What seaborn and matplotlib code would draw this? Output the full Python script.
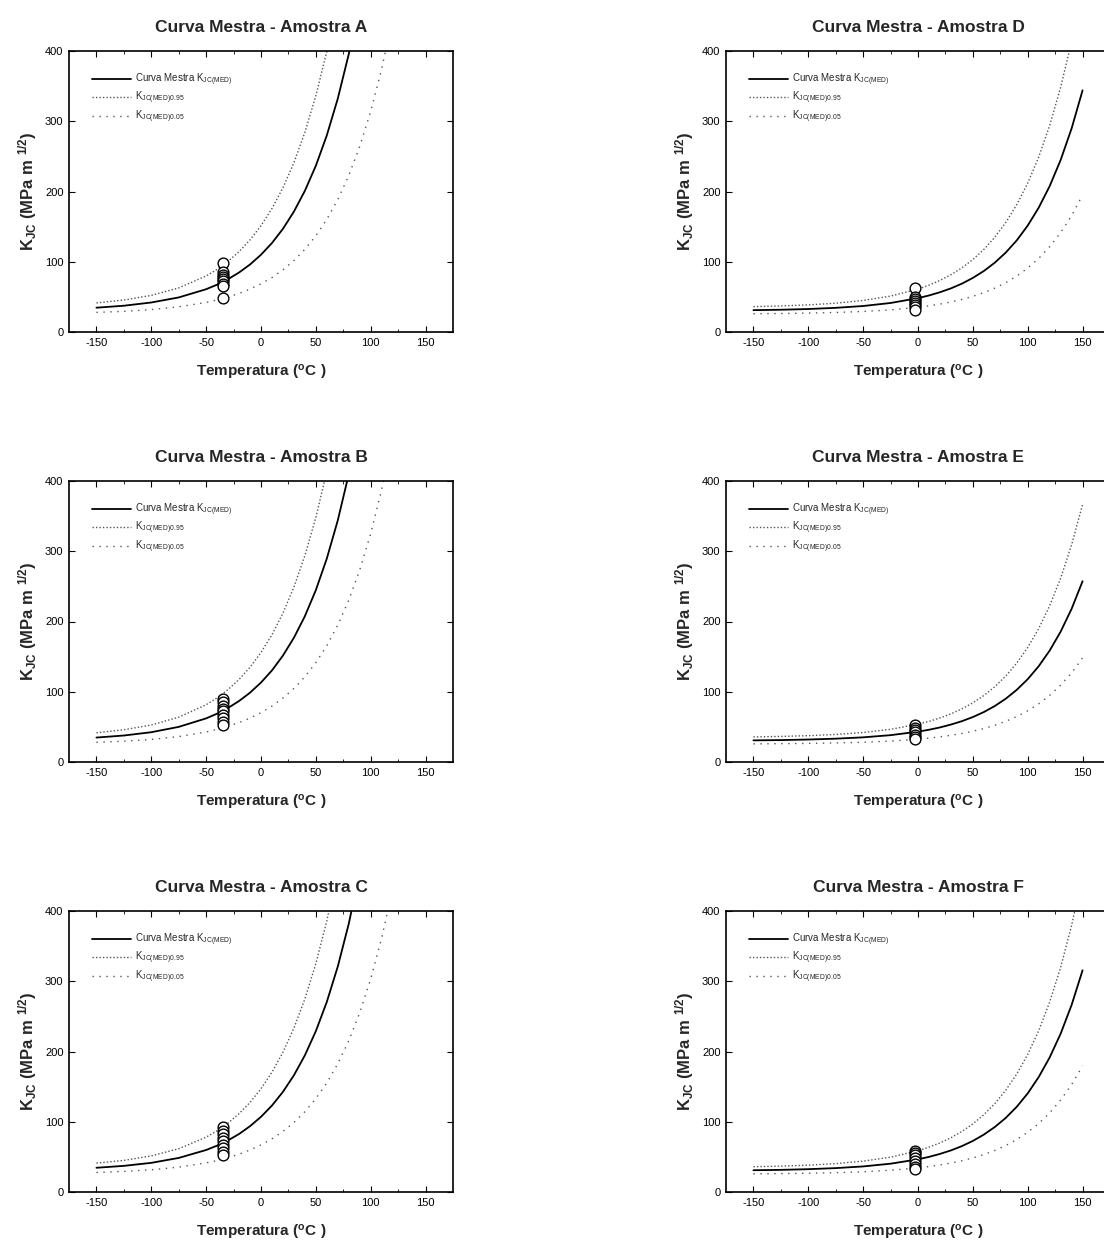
import matplotlib
matplotlib.use('Agg')
import matplotlib.pyplot as plt
import seaborn as sns

# grades de temperatura (C)
T_ESQ = [-150, -125, -100, -75, -50, -40, -30, -20, -10, 0, 10, 20, 30, 40,
         50, 60, 70, 80, 90, 100, 110, 120]
T_DIR = [-150, -125, -100, -75, -50, -25, 0, 10, 20, 30, 40, 50, 60, 70,
         80, 90, 100, 110, 120, 130, 140, 150]

# Amostra A
MED_A = [34.6, 37.4, 42.0, 49.2, 60.9, 67.4, 75.2, 84.7, 96.1, 110.0, 126.7,
         146.9, 171.4, 201.0, 236.7, 280.0, 332.3, 395.6, 472.1]
SUP_A = [41.4, 45.5, 52.1, 62.7, 79.8, 89.2, 100.6, 114.4, 131.1, 151.3, 175.8,
         205.3, 241.0, 284.2, 336.4, 399.6, 476.0]
INF_A = [27.9, 29.4, 31.9, 35.8, 42.1, 45.6, 49.8, 54.9, 61.1, 68.6, 77.6, 88.5,
         101.8, 117.7, 137.0, 160.4, 188.6, 222.8, 264.1, 314.1, 374.5, 447.5]
ENS_A = [98, 85, 81, 78, 75, 72, 68, 65, 48]

# Amostra B
MED_B = [34.8, 37.7, 42.4, 50.0, 62.1, 68.8, 77.0, 86.8, 98.7, 113.1, 130.4,
         151.5, 176.9, 207.6, 244.7, 289.7, 344.0, 409.7]
SUP_B = [41.6, 45.9, 52.7, 63.8, 81.5, 91.3, 103.2, 117.5, 134.9, 155.9, 181.2,
         211.9, 249.0, 293.9, 348.1, 413.7]
INF_B = [28.0, 29.6, 32.1, 36.2, 42.7, 46.4, 50.8, 56.1, 62.5, 70.2, 79.6, 91.0,
         104.7, 121.3, 141.4, 165.6, 195.0, 230.4, 273.4, 325.2, 388.0, 463.8]
ENS_B = [90, 85, 80, 76, 72, 67, 62, 57, 52]

# Amostra C
MED_C = [34.5, 37.2, 41.5, 48.5, 59.8, 66.0, 73.5, 82.6, 93.7, 107.0, 123.1,
         142.6, 166.1, 194.6, 229.0, 270.7, 321.0, 381.9, 455.6]
SUP_C = [41.1, 45.0, 51.4, 61.6, 78.1, 87.2, 98.2, 111.5, 127.5, 147.0, 170.5,
         198.9, 233.3, 274.9, 325.2, 386.0, 459.5]
INF_C = [27.8, 29.3, 31.6, 35.4, 41.5, 44.8, 48.9, 53.8, 59.8, 67.0, 75.7, 86.2,
         98.9, 114.3, 132.9, 155.4, 182.6, 215.4, 255.2, 303.3, 361.4, 431.8]
ENS_C = [93, 87, 82, 77, 72, 67, 62, 57, 52]

# Amostra D
MED_D = [31.1, 31.7, 32.7, 34.4, 37.0, 41.3, 48.2, 52.0, 56.6, 62.1, 68.8, 77.0,
         86.8, 98.7, 113.1, 130.4, 151.5, 176.9, 207.6, 244.8, 289.7, 344.0]
SUP_D = [36.1, 37.1, 38.6, 41.0, 44.9, 51.1, 61.1, 66.7, 73.4, 81.5, 91.3, 103.2,
         117.5, 134.9, 155.9, 181.2, 211.9, 249.0, 293.9, 348.1, 413.7, 493.1]
INF_D = [26.0, 26.3, 26.9, 27.8, 29.2, 31.5, 35.2, 37.3, 39.7, 42.7, 46.4, 50.8,
         56.1, 62.5, 70.2, 79.6, 91.0, 104.7, 121.3, 141.4, 165.6, 195.0]
ENS_D = [63, 50, 47, 44, 41, 38, 35, 32]

# Amostra E
MED_E = [30.8, 31.2, 32.0, 33.2, 35.1, 38.2, 43.2, 45.9, 49.2, 53.3, 58.1, 64.0,
         71.1, 79.7, 90.1, 102.7, 117.9, 136.3, 158.6, 185.5, 218.0, 257.3]
SUP_E = [35.7, 36.4, 37.5, 39.2, 42.0, 46.5, 53.8, 57.8, 62.7, 68.5, 75.7, 84.2,
         94.6, 107.2, 122.4, 140.8, 163.0, 189.8, 222.3, 261.6, 309.1, 366.5]
INF_E = [25.8, 26.1, 26.5, 27.1, 28.1, 29.8, 32.5, 34.0, 35.8, 38.0, 40.6, 43.8,
         47.6, 52.3, 57.9, 64.7, 72.9, 82.8, 94.8, 109.4, 126.9, 148.2]
ENS_E = [53, 48, 45, 42, 39, 36, 33]

# Amostra F
MED_F = [31.0, 31.5, 32.5, 34.0, 36.4, 40.3, 46.5, 50.0, 54.2, 59.2, 65.3, 72.7,
         81.7, 92.5, 105.5, 121.3, 140.4, 163.6, 191.5, 225.3, 266.2, 315.6]
SUP_F = [36.0, 36.8, 38.2, 40.4, 43.9, 49.6, 58.7, 63.8, 69.9, 77.2, 86.2, 97.0,
         110.0, 125.8, 144.9, 168.0, 195.9, 229.6, 270.4, 319.7, 379.4, 451.5]
INF_F = [25.9, 26.2, 26.7, 27.5, 28.8, 31.0, 34.3, 36.2, 38.4, 41.2, 44.5, 48.5,
         53.3, 59.1, 66.2, 74.7, 85.0, 97.5, 112.6, 130.9, 152.9, 179.6]
ENS_F = [58, 55, 52, 48, 44, 40, 36, 33]

T_ENSAIO_ESQ = -35
T_ENSAIO_DIR = -3

X_TICKS = [-150, -100, -50, 0, 50, 100, 150]
Y_TICKS = [0, 100, 200, 300, 400]

paineis = [
    ('A', T_ESQ, MED_A, SUP_A, INF_A, T_ENSAIO_ESQ, ENS_A),
    ('B', T_ESQ, MED_B, SUP_B, INF_B, T_ENSAIO_ESQ, ENS_B),
    ('C', T_ESQ, MED_C, SUP_C, INF_C, T_ENSAIO_ESQ, ENS_C),
    ('D', T_DIR, MED_D, SUP_D, INF_D, T_ENSAIO_DIR, ENS_D),
    ('E', T_DIR, MED_E, SUP_E, INF_E, T_ENSAIO_DIR, ENS_E),
    ('F', T_DIR, MED_F, SUP_F, INF_F, T_ENSAIO_DIR, ENS_F),
]

sns.set_style('ticks')
plt.rcParams['font.family'] = ['Liberation Sans', 'DejaVu Sans']
plt.rcParams['mathtext.fontset'] = 'custom'
plt.rcParams['mathtext.rm'] = 'Liberation Sans'
plt.rcParams['mathtext.it'] = 'Liberation Sans'
plt.rcParams['mathtext.bf'] = 'Liberation Sans:bold'
plt.rcParams['axes.unicode_minus'] = False

W, H = 1104, 1243
fig = plt.figure(figsize=(W / 100, H / 100), dpi=100)

# posicao dos eixos em pixels: (esquerda, topo)
pos_esq = [(69, 51), (69, 481), (69, 911)]
pos_dir = [(726, 51), (726, 481), (726, 911)]
larg, alt = 384, 281

for i, (nome, T, med, sup, inf, t_ens, ens) in enumerate(paineis):
    esq, topo = (pos_esq + pos_dir)[i]
    ax = fig.add_axes([esq / W, 1 - (topo + alt) / H, larg / W, alt / H])

    sns.lineplot(x=T[:len(med)], y=med, ax=ax, color='black', lw=1.3,
                 label=r'Curva Mestra K$_{\mathrm{JC(MED)}}$')
    sns.lineplot(x=T[:len(sup)], y=sup, ax=ax, color='#555555', lw=1.0,
                 linestyle=(0, (1, 1.5)), label=r'K$_{\mathrm{JC(MED)0.95}}$')
    sns.lineplot(x=T[:len(inf)], y=inf, ax=ax, color='#555555', lw=1.0,
                 linestyle=(0, (1, 4)), label=r'K$_{\mathrm{JC(MED)0.05}}$')
    sns.scatterplot(x=[t_ens] * len(ens), y=ens, ax=ax, s=60, marker='o',
                    facecolor='white', edgecolor='black', linewidth=1.0,
                    zorder=5)

    ax.set_xlim(-175, 175)
    ax.set_ylim(0, 400)
    ax.set_xticks(X_TICKS)
    ax.set_yticks(Y_TICKS)
    ax.set_xticks([-125, -75, -25, 25, 75, 125], minor=True)
    ax.tick_params(axis='both', which='both', direction='in', top=True,
                   right=True, labelsize=8, colors='black', pad=4)
    ax.tick_params(which='major', length=4)
    ax.tick_params(which='minor', length=2)
    for s in ax.spines.values():
        s.set_linewidth(1.2)
        s.set_color('black')
    if i >= 3:
        # lado direito cortado na figura original
        ax.spines['right'].set_visible(False)
        ax.tick_params(right=False)

    ax.set_title(f'Curva Mestra - Amostra {nome}', fontsize=12.5,
                 fontweight='bold', pad=14)
    ax.set_xlabel(r'Temperatura ($^{\mathbf{o}}$C )', fontsize=11,
                  fontweight='bold', labelpad=11)
    ax.set_ylabel(r'K$_{\mathbf{JC}}$ (MPa m $^{\mathbf{1/2}}$)', fontsize=12,
                  fontweight='bold', labelpad=4)

    ax.legend(loc='upper left', bbox_to_anchor=(0.05, 0.94), frameon=False,
              fontsize=7, handlelength=4, handletextpad=0.4,
              labelspacing=0.2, borderaxespad=0)

plt.savefig('out.png', dpi=100)
plt.close()
